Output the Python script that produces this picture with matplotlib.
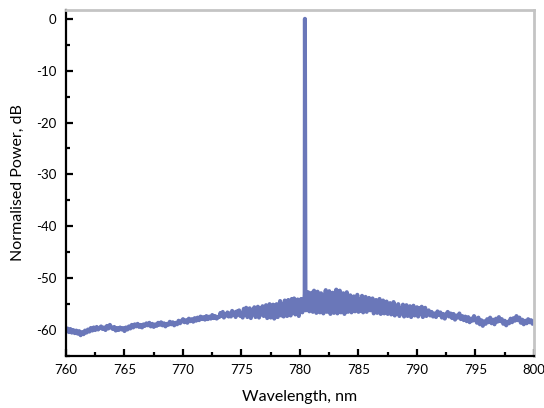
import numpy as np
import matplotlib.pyplot as plt
from matplotlib.ticker import MultipleLocator

plt.rcParams['font.family'] = ['Lato', 'DejaVu Sans']
plt.rcParams['axes.unicode_minus'] = False

# left part of the spectrum, every 0.125 nm from 760 to 773 nm
wl_left = np.linspace(760, 773, 105)
power_left = [
    -60.2, -59.7, -60.4, -59.8, -60.5, -60.0, -60.6, -60.1,
    -60.7, -60.2, -61.0, -60.4, -60.8, -60.1, -60.5, -59.9,
    -60.3, -59.6, -60.1, -59.5, -60.0, -59.4, -59.9, -59.6,
    -59.3, -59.8, -59.5, -60.0, -59.2, -59.7, -59.0, -59.5,
    -59.8, -59.4, -60.1, -59.6, -60.0, -59.5, -59.9, -59.6,
    -60.2, -59.5, -59.9, -59.3, -59.7, -59.0, -59.5, -58.9,
    -59.3, -58.8, -59.4, -59.0, -59.5, -58.9, -59.2, -58.7,
    -59.1, -58.6, -59.3, -58.8, -59.4, -58.9, -59.2, -58.6,
    -59.0, -58.5, -59.1, -58.7, -59.3, -58.8, -59.0, -58.4,
    -58.9, -58.5, -59.1, -58.6, -58.9, -58.2, -58.7, -58.3,
    -57.9, -58.5, -58.1, -58.6, -57.8, -58.3, -57.9, -58.4,
    -57.7, -58.2, -57.6, -58.1, -57.4, -57.9, -57.5, -58.0,
    -57.3, -57.9, -57.4, -57.8, -57.1, -57.7, -57.3, -57.8,
    -57.5,
]

# noisy middle part, every 0.1 nm from 773.1 to 790.9 nm
wl_mid = np.linspace(773.1, 790.9, 179)
power_mid = [
    -57.5, -56.7, -57.3, -56.5, -57.6, -56.9, -57.2, -56.6, -57.4, -56.8,
    -57.4, -56.3, -57.1, -56.6, -57.5, -56.4, -57.0, -56.2, -57.3, -56.7,
    -57.6, -55.9, -56.9, -55.7, -57.5, -56.3, -55.8, -57.7, -56.1, -56.8,
    -55.6, -57.5, -56.4, -55.5, -57.6, -55.8, -57.0, -55.4, -57.3, -56.0,
    -55.2, -57.7, -56.0, -55.0, -57.6, -56.4, -55.1, -57.8, -55.6, -55.0,
    -57.5, -56.3, -54.4, -57.2, -55.0, -57.4, -54.3, -56.1, -57.3, -54.2,
    -55.4, -57.2, -54.0, -56.6, -53.9, -57.0, -55.2, -54.1, -57.3, -54.8,
    -54.0, -56.6, -55.3, -53.0, -56.2, -54.2, -52.7, -56.4, -53.5, -52.8,
    -56.5, -52.4, -55.3, -56.7, -52.6, -54.8, -56.6, -52.9, -53.5, -56.8,
    -54.0, -52.3, -56.5, -55.6, -52.5, -56.9, -53.6, -52.8, -56.7, -55.0,
    -52.2, -56.8, -54.3, -52.4, -56.6, -55.7, -52.9, -56.9, -53.9, -52.7,
    -56.5, -54.6, -53.3, -56.6, -54.1, -53.5, -56.4, -55.3, -53.2, -56.5,
    -54.0, -56.3, -53.4, -56.6, -54.8, -53.6, -56.5, -55.5, -53.8, -56.2,
    -54.7, -53.9, -56.8, -55.9, -54.2, -56.7, -55.1, -54.0, -56.9, -55.5,
    -54.3, -56.8, -55.6, -54.5, -56.9, -55.2, -54.8, -57.0, -55.9, -54.6,
    -57.2, -55.3, -56.4, -55.0, -57.3, -55.8, -56.6, -55.1, -57.4, -56.0,
    -55.2, -57.3, -56.2, -55.4, -57.5, -55.9, -55.3, -57.2, -56.5, -55.6,
    -57.4, -55.8, -56.9, -55.5, -57.5, -56.2, -55.7, -57.3, -56.4,
]

# right part, every 0.125 nm from 791 to 800 nm
wl_right = np.linspace(791, 800, 73)
power_right = [
    -56.2, -57.2, -56.5, -57.4, -56.8, -57.5, -56.4, -57.1,
    -56.6, -57.6, -56.9, -57.8, -57.0, -56.5, -57.4, -56.8,
    -57.7, -56.9, -58.0, -57.2, -57.6, -56.8, -57.9, -57.3,
    -58.1, -57.4, -58.3, -57.5, -58.5, -57.8, -58.2, -57.3,
    -57.9, -58.6, -57.6, -58.9, -58.1, -59.2, -58.3, -58.8,
    -57.9, -58.5, -57.6, -58.7, -58.0, -58.9, -57.8, -58.4,
    -57.5, -58.3, -57.9, -58.8, -58.2, -59.1, -58.4, -58.7,
    -57.8, -58.5, -57.7, -58.2, -57.3, -58.1, -57.6, -58.6,
    -58.0, -58.9, -58.2, -58.7, -57.9, -58.5, -58.1, -58.8,
    -58.4,
]

# laser line
peak_wl = [780.36, 780.42, 780.47]
peak_db = [-55.0, 0.0, -55.0]

x = np.concatenate([wl_left, wl_mid, wl_right, peak_wl])
y = np.concatenate([power_left, power_mid, power_right, peak_db])
order = np.argsort(x)
x = x[order]
y = y[order]

fig = plt.figure(figsize=(5.44, 4.08), dpi=100)
ax = fig.add_axes([0.1213, 0.1275, 0.8603, 0.848])
ax.plot(x, y, color='#6a77b9', linewidth=2.9)

ax.set_xlim(760, 800)
ax.set_ylim(-65, 1.7)
ax.xaxis.set_major_locator(MultipleLocator(5))
ax.xaxis.set_minor_locator(MultipleLocator(2.5))
ax.yaxis.set_major_locator(MultipleLocator(10))
ax.yaxis.set_minor_locator(MultipleLocator(5))
ax.set_yticks(range(-60, 1, 10))

ax.tick_params(which='major', direction='in', length=5, width=1.6, labelsize=9.5)
ax.tick_params(axis='y', which='major', pad=7)
ax.tick_params(axis='x', which='major', pad=6)
ax.tick_params(which='minor', direction='in', length=3, width=1.6)

for side in ['left', 'bottom']:
    ax.spines[side].set_linewidth(1.6)
    ax.spines[side].set_color('black')
for side in ['top', 'right']:
    ax.spines[side].set_linewidth(2)
    ax.spines[side].set_color('#c4c4c4')

ax.set_xlabel('Wavelength, nm', fontsize=11.5, labelpad=10)
ax.set_ylabel('Normalised Power, dB', fontsize=11.5, labelpad=8)

plt.savefig('out.png', dpi=100)
